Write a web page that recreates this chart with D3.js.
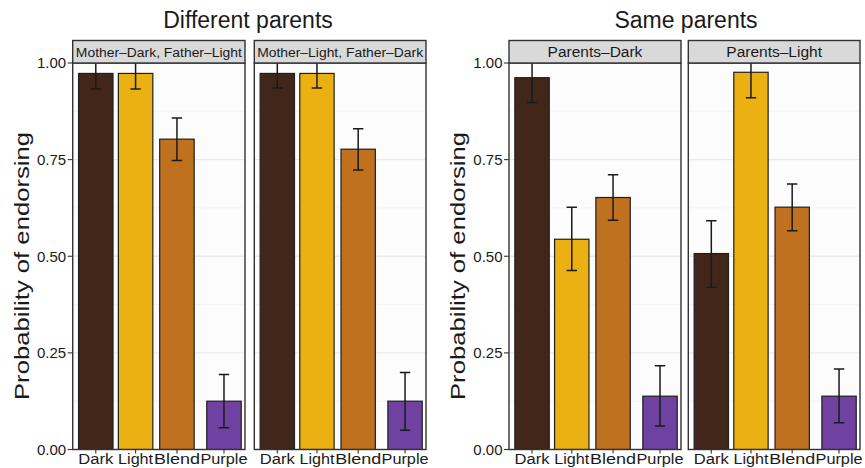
<!DOCTYPE html>
<html><head><meta charset="utf-8">
<script src="https://cdn.jsdelivr.net/npm/d3@7"></script>
<style>body{margin:0;background:#fff} text{font-family:"Liberation Sans",Arial,Helvetica,sans-serif}</style>
</head><body><svg id="c" width="865" height="468"></svg>
<script>
// ---- data ----
const categories = ["Dark", "Light", "Blend", "Purple"];
const groupTitles = ["Different parents", "Same parents"];
const panelLabels = ["Mother–Dark, Father–Light", "Mother–Light, Father–Dark", "Parents–Dark", "Parents–Light"];
const yTicks = [0, 0.25, 0.5, 0.75, 1];
const yTickLabels = ["0.00", "0.25", "0.50", "0.75", "1.00"];
const yTitle = "Probability of endorsing";

const probMDFL = [0.973, 0.973, 0.803, 0.125];
const lowMDFL  = [0.933, 0.933, 0.748, 0.056];
const highMDFL = [1.01, 1.01, 0.858, 0.194];

const probMLFD = [0.973, 0.973, 0.777, 0.125];
const lowMLFD  = [0.935, 0.935, 0.723, 0.050];
const highMLFD = [1.01, 1.01, 0.830, 0.199];

const probPD = [0.962, 0.544, 0.652, 0.138];
const lowPD  = [0.898, 0.463, 0.593, 0.061];
const highPD = [1.01, 0.627, 0.711, 0.217];

const probPL = [0.507, 0.976, 0.627, 0.138];
const lowPL  = [0.420, 0.910, 0.566, 0.069];
const highPL = [0.592, 1.01, 0.687, 0.208];

const colors = ["#43261A", "#EBB112", "#BF711F", "#6F42A1"];

// ---- layout ----
const svg = d3.select("#c");
const y = d3.scaleLinear().domain([0, 1]).range([449.5, 63]);
const stripTop = 40.5;
const groupLayout = [
  {axisX: 72.7, titleX: 248, panels: [[72.7, 245], [254.3, 426]], stripFont: 12, stripLen: 166},
  {axisX: 509, titleX: 686, panels: [[509, 681], [688.3, 860]], stripFont: 15.5, stripLen: null}
];
const panelData = [
  [probMDFL, lowMDFL, highMDFL],
  [probMLFD, lowMLFD, highMLFD],
  [probPD, lowPD, highPD],
  [probPL, lowPL, highPL]
];
const slot = d3.scaleOrdinal().domain(categories).range([0.134, 0.365, 0.605, 0.878]);
const labelLen = d3.scaleOrdinal().domain(categories).range([35, 35, 46, 47]);
const barFrac = 0.2;

groupLayout.forEach((g, gi) => {
  svg.append("text").attr("x", g.titleX).attr("y", 28).attr("text-anchor", "middle")
    .attr("font-size", 23).attr("fill", "#1a1a1a").text(groupTitles[gi]);
  svg.append("text")
    .attr("transform", `translate(${g.axisX - 44.2},266) rotate(-90)`)
    .attr("text-anchor", "middle").attr("font-size", 20).attr("fill", "#1a1a1a")
    .attr("textLength", 268).attr("lengthAdjust", "spacingAndGlyphs")
    .text(yTitle);
  const ya = svg.append("g");
  yTicks.forEach((t, i) => {
    ya.append("line").attr("x1", g.axisX - 5).attr("x2", g.axisX)
      .attr("y1", y(t)).attr("y2", y(t)).attr("stroke", "#333").attr("stroke-width", 1.1);
    ya.append("text").attr("x", g.axisX - 6.5).attr("y", y(t)).attr("dy", "0.36em")
      .attr("text-anchor", "end").attr("font-size", 15).attr("fill", "#1a1a1a").text(yTickLabels[i]);
  });

  g.panels.forEach((p, pi) => {
    const idx = gi * 2 + pi;
    const [vals, lo, hi] = panelData[idx];
    const px = d3.scaleLinear().domain([0, 1]).range(p);
    const w = p[1] - p[0];
    const bw = w * barFrac;
    const cx = c => px(slot(c));
    const clipId = "clip" + idx;
    svg.append("clipPath").attr("id", clipId).append("rect")
      .attr("x", p[0]).attr("y", y(1)).attr("width", w).attr("height", y(0) - y(1));
    const pg = svg.append("g");
    pg.append("rect").attr("x", p[0]).attr("y", y(1)).attr("width", w).attr("height", y(0) - y(1))
      .attr("fill", "#fcfcfc");
    [0.125, 0.375, 0.625, 0.875].forEach(t => {
      pg.append("line").attr("x1", p[0]).attr("x2", p[1]).attr("y1", y(t)).attr("y2", y(t))
        .attr("stroke", "#f0f0f0").attr("stroke-width", 0.7);
    });
    yTicks.forEach(t => {
      pg.append("line").attr("x1", p[0]).attr("x2", p[1]).attr("y1", y(t)).attr("y2", y(t))
        .attr("stroke", "#ebebeb").attr("stroke-width", 1.3);
    });
    const cg = pg.append("g").attr("clip-path", `url(#${clipId})`);
    categories.forEach((c, i) => {
      cg.append("rect").attr("x", cx(c) - bw / 2).attr("y", y(vals[i]))
        .attr("width", bw).attr("height", y(0) - y(vals[i]))
        .attr("fill", colors[i]).attr("stroke", "#1f1f1f").attr("stroke-width", 1.2);
    });
    categories.forEach((c, i) => {
      const x0 = cx(c);
      cg.append("line").attr("x1", x0).attr("x2", x0).attr("y1", y(hi[i])).attr("y2", y(lo[i]))
        .attr("stroke", "#1a1a1a").attr("stroke-width", 1.5);
      [hi[i], lo[i]].forEach(v => {
        cg.append("line").attr("x1", x0 - 5.2).attr("x2", x0 + 5.2).attr("y1", y(v)).attr("y2", y(v))
          .attr("stroke", "#1a1a1a").attr("stroke-width", 1.5);
      });
    });
    pg.append("rect").attr("x", p[0]).attr("y", y(1)).attr("width", w).attr("height", y(0) - y(1))
      .attr("fill", "none").attr("stroke", "#333").attr("stroke-width", 1.4);
    pg.append("rect").attr("x", p[0]).attr("y", stripTop).attr("width", w).attr("height", y(1) - stripTop)
      .attr("fill", "#d9d9d9").attr("stroke", "#333").attr("stroke-width", 1.4);
    const st = pg.append("text").attr("x", (p[0] + p[1]) / 2).attr("y", 56.5).attr("text-anchor", "middle")
      .attr("font-size", g.stripFont).attr("fill", "#1a1a1a").text(panelLabels[idx]);
    if (g.stripLen) st.attr("textLength", g.stripLen).attr("lengthAdjust", "spacingAndGlyphs");
    categories.forEach(c => {
      pg.append("line").attr("x1", cx(c)).attr("x2", cx(c)).attr("y1", y(0)).attr("y2", y(0) + 4)
        .attr("stroke", "#333").attr("stroke-width", 1.1);
      pg.append("text").attr("x", cx(c)).attr("y", 464).attr("text-anchor", "middle")
        .attr("font-size", 15.5).attr("fill", "#1a1a1a")
        .attr("textLength", labelLen(c)).attr("lengthAdjust", "spacingAndGlyphs").text(c);
    });
  });
});
</script></body></html>
